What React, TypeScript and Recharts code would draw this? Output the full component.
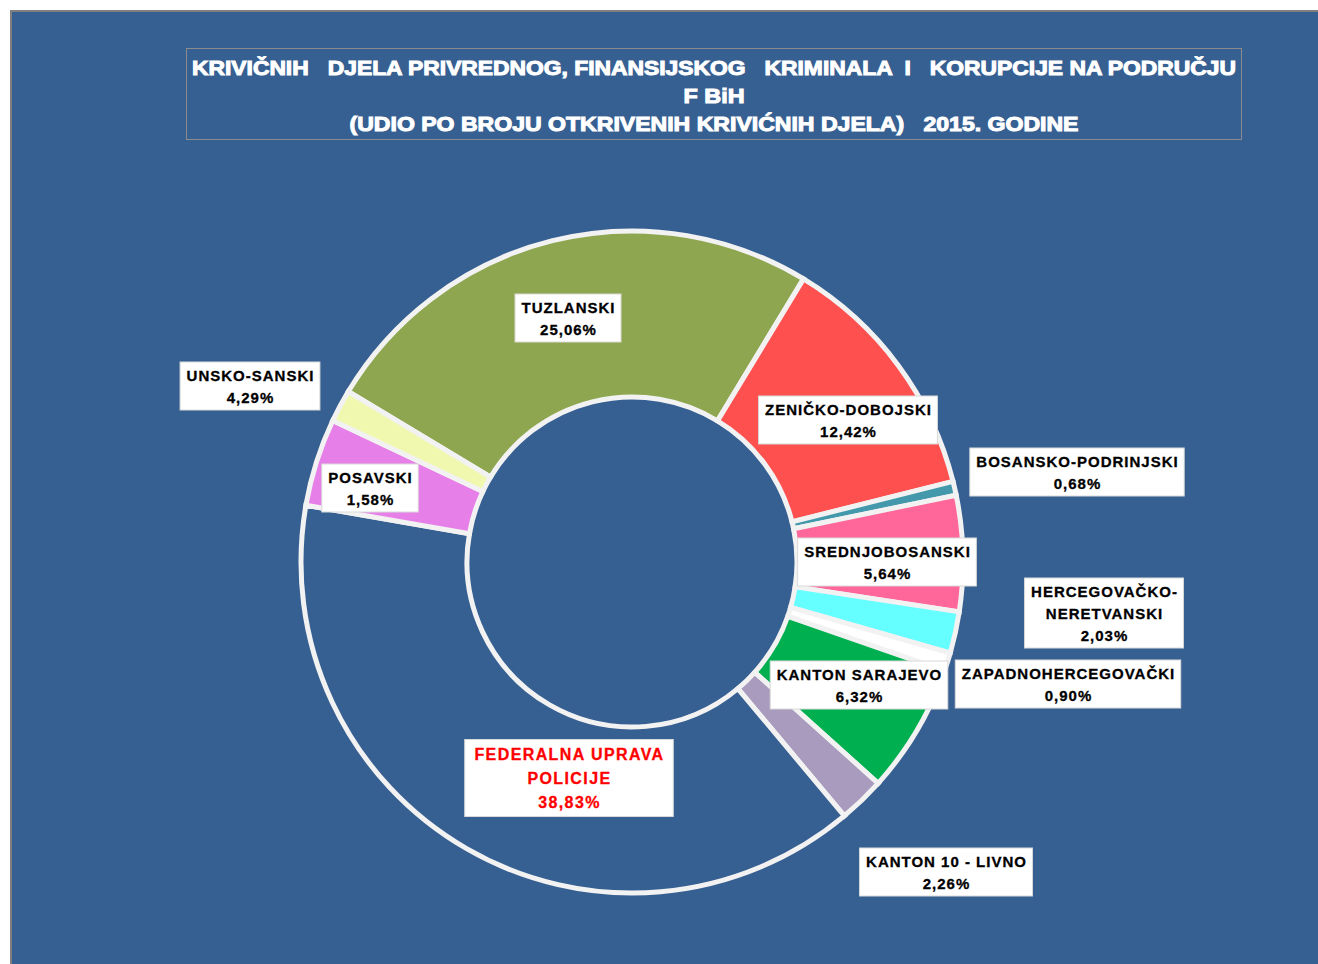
import { PieChart, Pie, Cell } from 'recharts'

const regions = [
  'TUZLANSKI',
  'ZENIČKO-DOBOJSKI',
  'BOSANSKO-PODRINJSKI',
  'SREDNJOBOSANSKI',
  'HERCEGOVAČKO-NERETVANSKI',
  'ZAPADNOHERCEGOVAČKI',
  'KANTON SARAJEVO',
  'KANTON 10 - LIVNO',
  'FEDERALNA UPRAVA POLICIJE',
  'UNSKO-SANSKI',
  'POSAVSKI',
]
const shares = [25.06, 12.42, 0.68, 5.64, 2.03, 0.9, 6.32, 2.26, 38.83, 4.29, 1.58]
const labelLines = [
  ['TUZLANSKI'],
  ['ZENIČKO-DOBOJSKI'],
  ['BOSANSKO-PODRINJSKI'],
  ['SREDNJOBOSANSKI'],
  ['HERCEGOVAČKO-', 'NERETVANSKI'],
  ['ZAPADNOHERCEGOVAČKI'],
  ['KANTON SARAJEVO'],
  ['KANTON 10 - LIVNO'],
  ['FEDERALNA  UPRAVA', 'POLICIJE'],
  ['UNSKO-SANSKI'],
  ['POSAVSKI'],
]
const titleLines = [
  'KRIVIČNIH   DJELA PRIVREDNOG, FINANSIJSKOG   KRIMINALA  I   KORUPCIJE NA PODRUČJU',
  'F BiH',
  '(UDIO PO BROJU OTKRIVENIH KRIVIĆNIH DJELA)   2015. GODINE',
]

const BG = '#376092'
const sliceColors = [
  '#8EA64F', '#FF5050', '#4399AB', '#FF6699', '#66FFFF', '#FFFFFF',
  '#00B050', '#A99BBD', BG, '#E680E8', '#F0F8B0',
]
// label box centres, relative to the pie centre
const labelOffsets = [
  [-64, -244], [216, -142], [445, -90], [255, 0], [472, 51], [436, 122],
  [227, 123], [314, 310], [-63, 216], [-382, -176], [-262, -74],
]
const titleWidths = [1044, 61, 729]

const data = regions.map((name, i) => ({ name, value: shares[i] }))

const FONT = '"Liberation Sans", Arial, sans-serif'

let measureCtx: CanvasRenderingContext2D | null = null
function textWidth(s: string, size: number, spacing: number) {
  if (!measureCtx) measureCtx = document.createElement('canvas').getContext('2d')
  if (!measureCtx) return s.length * 11
  measureCtx.font = `bold ${size}px ${FONT}`
  return measureCtx.measureText(s).width + s.length * spacing
}

function renderLabel(props: any) {
  const { cx, cy, index } = props
  const lines = [...labelLines[index], shares[index].toFixed(2).replace('.', ',') + '%']
  const isFup = index === 8
  const size = isFup ? 16 : 15
  const spacing = isFup ? 1.4 : 1
  const lineH = isFup ? 24 : 22
  const w = Math.max(...lines.map((t) => textWidth(t, size, spacing))) + 12
  const h = lines.length * lineH + (isFup ? 5 : 4)
  const x = cx + labelOffsets[index][0]
  const y = cy + labelOffsets[index][1]
  const first = y - ((lines.length - 1) * lineH) / 2 + 5.5
  return (
    <g key={`lbl-${index}`}>
      <rect x={x - w / 2} y={y - h / 2} width={w} height={h} fill="#FFFFFF" stroke="#D9D9D9" strokeWidth={1} />
      {lines.map((t, k) => (
        <text
          key={k}
          x={x + 0.5}
          y={first + k * lineH}
          textAnchor="middle"
          fontFamily={FONT}
          fontWeight="bold"
          fontSize={size}
          letterSpacing={spacing}
          fill={isFup ? '#FF0000' : '#000000'}
          stroke={isFup ? '#FF0000' : '#000000'}
          strokeWidth={0.3}
        >
          {t}
        </text>
      ))}
    </g>
  )
}

export default function App() {
  return (
    <div
      style={{
        position: 'absolute',
        left: 10,
        top: 10,
        width: 1308,
        height: 954,
        background: BG,
        borderTop: '2px solid #7F7F7F',
        borderLeft: '2px solid #7F7F7F',
        boxSizing: 'border-box',
      }}
    >
      <svg width={1306} height={952} style={{ position: 'absolute', left: -2, top: -2 }}>
        <rect x={176.5} y={38.5} width={1055} height={91} fill="none" stroke="#8C8C8C" strokeWidth={1} />
        {titleLines.map((t, i) => (
          <text
            key={i}
            x={704}
            y={65 + i * 28}
            textAnchor="middle"
            fontFamily={FONT}
            fontWeight="bold"
            fontSize={20}
            fill="#FFFFFF"
            stroke="#FFFFFF"
            strokeWidth={1}
            textLength={titleWidths[i]}
            lengthAdjust="spacingAndGlyphs"
            style={{ whiteSpace: 'pre' }}
          >
            {t}
          </text>
        ))}
      </svg>
      <div style={{ position: 'absolute', left: -2, top: -2 }}>
        <PieChart width={1308} height={954} margin={{ top: 0, right: 0, bottom: 0, left: 0 }}>
          <Pie
            data={data}
            dataKey="value"
            nameKey="name"
            cx={622}
            cy={552}
            innerRadius={165}
            outerRadius={331}
            startAngle={149}
            endAngle={-211}
            stroke="#F2F2F2"
            strokeWidth={5}
            label={renderLabel}
            labelLine={false}
            isAnimationActive={false}
          >
            {data.map((d, i) => (
              <Cell key={d.name} fill={sliceColors[i]} />
            ))}
          </Pie>
        </PieChart>
      </div>
    </div>
  )
}
